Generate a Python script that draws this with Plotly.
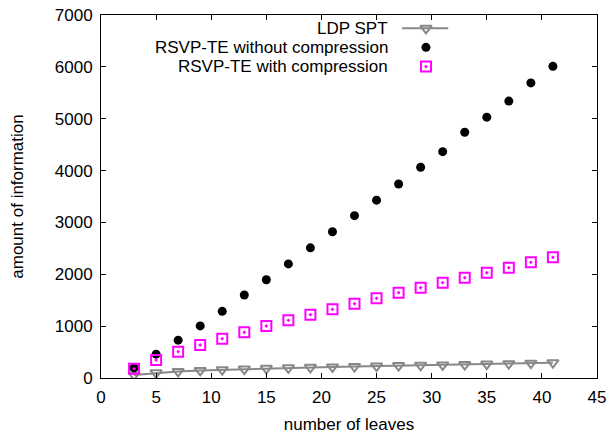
import plotly.graph_objects as go

leaves = [3, 5, 7, 9, 11, 13, 15, 17, 19, 21, 23, 25, 27, 29, 31, 33, 35, 37, 39, 41]
ldp_spt = [60, 100, 127, 147, 160, 173, 186, 196, 205, 213, 222, 231, 239, 246, 252, 260, 268, 276, 285, 295]
rsvp_without = [195, 460, 730, 1005, 1285, 1600, 1895, 2200, 2510, 2820, 3130, 3430, 3740, 4065, 4365, 4740, 5030, 5340, 5690, 6010]
rsvp_with = [180, 347, 508, 636, 758, 881, 1003, 1112, 1221, 1324, 1433, 1537, 1645, 1742, 1838, 1934, 2030, 2127, 2230, 2327]
names = ["LDP SPT", "RSVP-TE without compression", "RSVP-TE with compression"]

GREY = "#888888"
MAG = "#ff00ff"
FONT = "Liberation Sans, Arial, sans-serif"
FS = 17

fig = go.Figure()
fig.add_trace(go.Scatter(x=leaves, y=ldp_spt, mode="lines+markers", name=names[0],
                         line=dict(color=GREY, width=2),
                         marker=dict(symbol="triangle-down-open", size=10, color=GREY,
                                     line=dict(width=2, color=GREY)),
                         showlegend=False))
fig.add_trace(go.Scatter(x=leaves, y=rsvp_without, mode="markers", name=names[1],
                         marker=dict(symbol="circle", size=9, color="black"),
                         showlegend=False))
fig.add_trace(go.Scatter(x=leaves, y=rsvp_with, mode="markers", name=names[2],
                         marker=dict(symbol="square-open-dot", size=10, color=MAG,
                                     line=dict(width=2, color=MAG)),
                         showlegend=False))

# gnuplot-style key: text right-aligned, sample to the right
key_y = [0.9634, 0.9110, 0.8579]
key_text_x = 0.5827
fig.add_trace(go.Scatter(x=[0.607, 0.700], y=[key_y[0], key_y[0]], mode="lines",
                         line=dict(color=GREY, width=2), xaxis="x2", yaxis="y2",
                         showlegend=False, hoverinfo="skip"))
fig.add_trace(go.Scatter(x=[0.6552], y=[key_y[0]], mode="markers", xaxis="x2", yaxis="y2",
                         marker=dict(symbol="triangle-down-open", size=10, color=GREY,
                                     line=dict(width=2, color=GREY)),
                         showlegend=False, hoverinfo="skip"))
fig.add_trace(go.Scatter(x=[0.6552], y=[key_y[1]], mode="markers", xaxis="x2", yaxis="y2",
                         marker=dict(symbol="circle", size=9, color="black"),
                         showlegend=False, hoverinfo="skip"))
fig.add_trace(go.Scatter(x=[0.6552], y=[key_y[2]], mode="markers", xaxis="x2", yaxis="y2",
                         marker=dict(symbol="square-open-dot", size=10, color=MAG,
                                     line=dict(width=2, color=MAG)),
                         showlegend=False, hoverinfo="skip"))
for nm, yy in zip(names, key_y):
    fig.add_annotation(x=key_text_x, y=yy, xref="x2", yref="y2", text=nm, showarrow=False,
                       xanchor="right", yanchor="middle", font=dict(size=FS, color="black", family=FONT))

axis_common = dict(showline=True, linecolor="black", linewidth=1, mirror="ticks",
                   ticks="inside", ticklen=5, tickcolor="black", showgrid=False, zeroline=False,
                   automargin=False,
                   tickfont=dict(size=FS, color="black", family=FONT))
fig.update_layout(
    width=608, height=434,
    margin=dict(l=101, r=11, t=15, b=56),
    paper_bgcolor="white", plot_bgcolor="white",
    font=dict(family=FONT, size=FS, color="black"),
    xaxis=dict(range=[0, 45], tickvals=list(range(0, 46, 5)), ticklabelstandoff=4,
               title=dict(text="number of leaves", font=dict(size=FS), standoff=16), **axis_common),
    yaxis=dict(range=[0, 7000], tickvals=list(range(0, 7001, 1000)), ticklabelstandoff=4,
               title=dict(text="amount of information", font=dict(size=FS), standoff=26), **axis_common),
    xaxis2=dict(range=[0, 1], overlaying="x", visible=False),
    yaxis2=dict(range=[0, 1], overlaying="y", visible=False),
)
fig.write_html("out.html")
